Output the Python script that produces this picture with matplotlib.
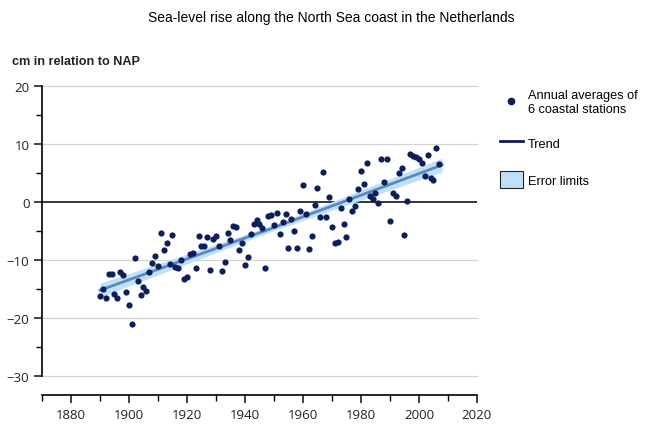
import numpy as np
import matplotlib.pyplot as plt
from matplotlib.lines import Line2D
from matplotlib.patches import Patch

# Annual averages (cm relative to NAP)
years = np.arange(1890, 2008)
sea_level = [
    -16.2, -15.0, -16.5, -12.4, -12.4, -15.8, -16.6, -12.0, -12.5, -15.5,
    -17.8, -21.0, -9.7, -13.6, -16.0, -14.7, -15.3, -12.0, -10.5, -9.3,
    -11.0, -5.4, -8.3, -7.0, -10.6, -5.7, -11.2, -11.3, -10.0, -13.3,
    -13.0, -9.0, -8.8, -11.3, -5.8, -7.5, -7.5, -6.1, -11.7, -6.3,
    -5.9, -7.5, -11.8, -10.4, -5.4, -6.5, -4.1, -4.3, -8.2, -7.0,
    -10.9, -9.4, -5.5, -3.8, -3.1, -3.8, -4.5, -11.3, -2.4, -2.2,
    -4.0, -1.8, -5.5, -3.5, -2.0, -7.9, -3.0, -5.0, -7.9, -1.5,
    3.0, -2.0, -8.1, -5.9, -0.5, 2.5, -2.5, 5.2, -2.6, 0.9,
    -4.3, -7.1, -6.9, -1.0, -3.7, -6.0, 0.5, -1.6, -0.7, 2.2,
    5.4, 3.2, 6.8, 1.0, 0.6, 1.5, -0.2, 7.4, 3.5, 7.4,
    -3.2, 1.6, 1.1, 5.1, 5.9, -5.7, 0.2, 8.3, 8.0, 7.8,
    7.4, 6.7, 4.5, 8.1, 4.1, 3.8, 9.4, 6.5,
]

# Trend line and its error band
trend_years = [1890, 1950, 2008]
trend_values = [-15.2, -4.4, 6.4]
error_half = [1.2, 0.5, 1.2]

y_ticks = [-30, -20, -10, 0, 10, 20]
x_ticks = [1880, 1900, 1920, 1940, 1960, 1980, 2000, 2020]

navy = "#0c1f5a"
trend_col = "#5a88bf"
band_col = "#bfe0f6"

plt.rcParams['font.family'] = ['Liberation Sans', 'DejaVu Sans']

fig = plt.figure(figsize=(6.6, 4.27), dpi=100)
ax = fig.add_axes([0.0636, 0.117, 0.659, 0.679])

lo = np.array(trend_values) - np.array(error_half)
hi = np.array(trend_values) + np.array(error_half)
ax.fill_between(trend_years, lo, hi, color=band_col, lw=0, zorder=2)
ax.plot(trend_years, trend_values, color=trend_col, lw=2.0, zorder=3)
ax.scatter(years, sea_level, s=20, color=navy, zorder=4, lw=0)

# Grid and zero line
for v in y_ticks:
    if v == 0:
        ax.axhline(v, color="black", lw=1.1, zorder=1)
    else:
        ax.axhline(v, color="#d4d4d4", lw=0.9, zorder=0, clip_on=False)

ax.set_xlim(1870, 2020)
ax.set_ylim(-30, 20)

for s in ['top', 'right']:
    ax.spines[s].set_visible(False)
ax.spines['bottom'].set_position(('outward', 14))
ax.spines['left'].set_linewidth(1.2)
ax.spines['bottom'].set_linewidth(1.2)

ax.set_yticks(y_ticks)
ax.set_yticks(np.arange(-30, 21, 5), minor=True)
ax.set_xticks(x_ticks)
ax.set_xticks(np.arange(1870, 2021, 10), minor=True)
ax.tick_params(axis='both', which='major', direction='out', length=6, width=1.2,
               labelsize=9.5, colors='#222222', pad=3)
ax.tick_params(axis='both', which='minor', direction='out', length=4, width=1.0)
for lab in ax.get_xticklabels() + ax.get_yticklabels():
    lab.set_family(['Open Sans', 'DejaVu Sans'])

fig.text(0.502, 0.958, "Sea-level rise along the North Sea coast in the Netherlands",
         ha='center', va='center', fontsize=10)
fig.text(0.018, 0.855, "cm in relation to NAP", ha='left', va='center',
         fontsize=9.1, fontweight='bold', color='#222222')

handles = [
    Line2D([], [], marker='o', color=navy, lw=0, markersize=4.5),
    Line2D([], [], color=navy, lw=2),
    Patch(facecolor=band_col, edgecolor='#222222', lw=0.8),
]
labels = ["Annual averages of\n6 coastal stations", "Trend", "Error limits"]
leg = fig.legend(handles, labels, loc='upper left', bbox_to_anchor=(0.74, 0.815),
                 frameon=False, fontsize=9.2, handlelength=1.8, handleheight=1.7,
                 labelspacing=1.5, handletextpad=0.4)

fig.savefig("out.png", dpi=100)
